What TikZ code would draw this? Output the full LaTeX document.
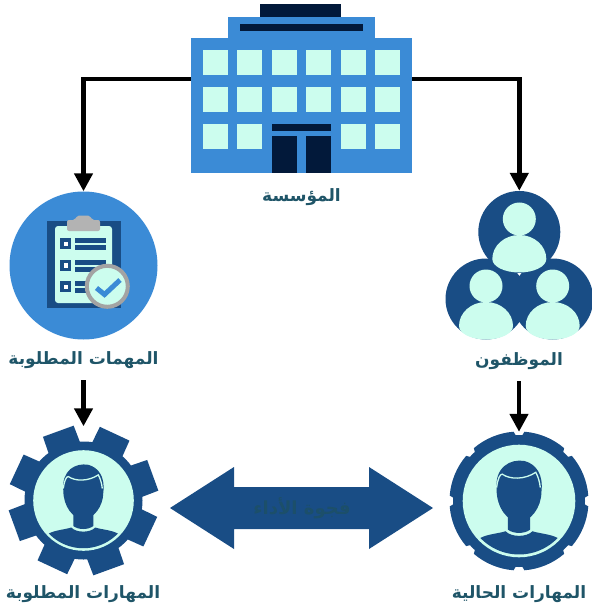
\documentclass[tikz,border=0pt]{standalone}
\usepackage{fontspec}
\usetikzlibrary{arrows.meta}
\TeXXeTstate=1
\newfontfamily\arabicfont[Script=Arabic]{DejaVu Sans}

\definecolor{lightblue}{HTML}{3B8BD6}
\definecolor{darkblue}{HTML}{194D85}
\definecolor{navy}{HTML}{02193A}
\definecolor{mint}{HTML}{CCFDEE}
\definecolor{labelteal}{HTML}{1F5568}
\definecolor{gaptext}{HTML}{1C4F6A}
\definecolor{clipgray}{HTML}{B3B3B3}
\definecolor{ringgray}{HTML}{A3A3A3}

\tikzset{
	caption/.style = {font=\arabicfont\bfseries\fontsize{17}{19}\selectfont, text=labelteal, inner sep=0pt, minimum height=40pt},
	flow/.style = {line width=4.5pt, black, -{Triangle[length=18pt,width=18pt]}},
	iconzone/.style = {circle, inner sep=0pt, minimum size=#1},
}

% Head and shoulders of one person, inside a gear
\newcommand{\faceicon}[3]{
	\begin{scope}[shift={(#1,#2)},scale=#3]
		\fill[darkblue] (-20,-10) .. controls (-22,-30) and (-8,-38) .. (5,-35.7) .. controls (15,-33) and (22,-24) .. (20,-8) .. controls (20,6) and (10,18.7) .. (0,18.7) .. controls (-10,18.7) and (-20,6) .. cycle;
		\draw[mint,line width=1.3pt] (-20,-12) .. controls (-19,-20) and (-17,-24) .. (-15,-24) .. controls (-8,-19) and (5,-19) .. (15,-25.6) .. controls (17,-22) and (18.5,-17) .. (19,-12);
		\fill[darkblue] (-10,10) -- (10,10) -- (10,25.5) .. controls (5,29.5) and (-5,29.5) .. (-10,25.5) -- cycle;
		\fill[darkblue] (-34.5,33) .. controls (-28,29.5) and (-18,29) .. (-12,27) .. controls (-7,32.5) and (7,32.5) .. (12,27) .. controls (18,29) and (28,29.5) .. (34.5,33) arc (43.7:136.3:47.7);
	\end{scope}
}

% One member of the staff group
\newcommand{\staffbody}[2]{
	\fill[mint] (#1,#2-13) circle (16.5);
	\fill[mint] (#1-27,#2+27) arc (180:360:27 and 24) arc (0:180:27 and 13.5);
}

\begin{document}
\begin{tikzpicture}[x=1pt,y=-1pt]

	\useasboundingbox (0,0) rectangle (591,612);

	% Building
	\fill[navy] (260,4) rectangle (341,18);
	\fill[lightblue] (228,17) rectangle (375,40);
	\node[fill=lightblue, inner sep=0pt, minimum width=221pt, minimum height=135pt] (building) at (301.5,105.5) {};
	\fill[navy] (240,24) rectangle (363,31.5);

	% Windows
	\foreach \wx in {203,237.3,272,306.3,340.7,375}
		\foreach \wy in {50,87}
			\fill[mint] (\wx,\wy) rectangle +(25,25);
	\foreach \wx in {203,237.3,340.7,375}
		\fill[mint] (\wx,123.7) rectangle +(25,25);

	% Door
	\fill[navy] (272,124) rectangle (331,131.5);
	\fill[navy] (272,136) rectangle (296.7,173);
	\fill[navy] (306.3,136) rectangle (331,173);

	\coordinate (buildingL) at (building.west |- 0,79);
	\coordinate (buildingR) at (building.east |- 0,79);
	\node[caption] (buildingCap) at (301.5,197) {\beginR المؤسسة\endR};

	% Tasks circle
	\node[iconzone=148pt, fill=lightblue] (tasks) at (83.5,265.5) {};
	\fill[darkblue] (47,221) rectangle (121,307.7);
	\fill[mint, rounded corners=3pt] (55,226) rectangle (112,303);
	\fill[clipgray, rounded corners=2pt] (67,231) -- (67,220) -- (75,220) -- (77,215.5) -- (90,215.5) -- (92,220) -- (100,220) -- (100,231) -- cycle;

	% Task rows
	\foreach \ry in {238,259.5,281} {
		\fill[darkblue] (60,\ry) rectangle +(11,11);
		\fill[white] (63.5,\ry+3.5) rectangle +(4.5,4.5);
		\fill[darkblue] (75,\ry) rectangle (106,\ry+5);
		\fill[darkblue] (75,\ry+7) rectangle (106,\ry+12);
	}

	% Tick badge
	\filldraw[fill=mint, draw=ringgray, line width=4pt] (107.3,286.3) circle (20.5);
	\draw[lightblue, line width=5pt] (96.5,288) -- (104.5,294.5) -- (120,280);

	\node[caption] (tasksCap) at (83.5,360) {\beginR المهمات المطلوبة\endR};

	% Staff group
	\node[iconzone=81pt, fill=darkblue] (staffLeft) at (486,299) {};
	\node[iconzone=81pt, fill=darkblue] (staffRight) at (552.7,299) {};
	\staffbody{486}{299}
	\staffbody{552.7}{299}
	\node[iconzone=82pt, fill=darkblue] (staffTop) at (519.3,232) {};
	\staffbody{519.3}{232}
	\node[caption] (staffCap) at (519,361) {\beginR الموظفون\endR};

	% Required skills gear
	\node[iconzone=148pt] (gearReq) at (83.5,500.5) {};
	\begin{scope}[shift={(83.5,500.5)}]
		\fill[darkblue] (0,0) circle (59);
		\foreach \a in {25,70,...,340}
			\fill[darkblue] ({\a-17}:57) -- ({\a-12.5}:75.5) -- ({\a+12.5}:75.5) -- ({\a+17}:57) -- cycle;
		\fill[mint] (0,0) circle (50.3);
	\end{scope}
	\faceicon{83.3}{500.5}{1}
	\node[caption] (gearReqCap) at (83,594) {\beginR المهارات المطلوبة\endR};

	% Current skills gear
	\node[iconzone=138pt] (gearCur) at (519,501) {};
	\begin{scope}[shift={(519,501)}]
		\fill[darkblue] (0,0) circle (66);
		\foreach \a in {22.5,67.5,...,337.5}
			\fill[darkblue] ({\a-20}:65) -- ({\a-18}:69.5) arc ({\a-18}:{\a+18}:69.5) -- ({\a+20}:65) -- cycle;
		\fill[mint] (0,0) circle (56.3);
	\end{scope}
	\faceicon{519}{501}{1.12}
	\node[caption] (gearCurCap) at (519,594) {\beginR المهارات الحالية\endR};

	% Gap arrow
	\fill[darkblue] (170,508) -- (234,467) -- (234,487) -- (369,487) -- (369,467) -- (433,508) -- (369,549) -- (369,529) -- (234,529) -- (234,549) -- cycle;
	\node[font=\arabicfont\bfseries\fontsize{18}{20}\selectfont, text=gaptext, inner sep=0pt] (gapCap) at (302,508) {\beginR فجوة الأداء\endR};

	% Flow arrows
	\draw[flow] (buildingL) -| (tasks.north);
	\draw[flow] (buildingR) -| (staffTop.north);
	\draw[flow] (tasksCap.south) -- (gearReq.north);
	\draw[flow] (staffCap.south) -- (gearCur.north);

\end{tikzpicture}
\end{document}
